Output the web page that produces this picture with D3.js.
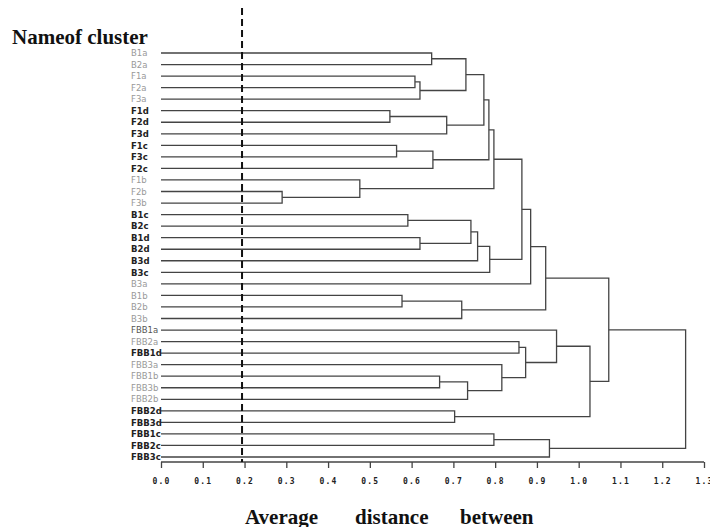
<!DOCTYPE html>
<html>
<head>
<meta charset="utf-8">
<script src="https://cdn.jsdelivr.net/npm/d3@7"></script>
<style>
  body { margin: 0; background: #fff; }
  svg { display: block; }
</style>
</head>
<body>
<div id="chart"></div>
<script>
// leaf order, top to bottom
const leaves = ["B1a","B2a","F1a","F2a","F3a","F1d","F2d","F3d","F1c","F3c","F2c",
  "F1b","F2b","F3b","B1c","B2c","B1d","B2d","B3d","B3c","B3a","B1b","B2b","B3b",
  "FBB1a","FBB2a","FBB1d","FBB3a","FBB1b","FBB3b","FBB2b","FBB2d","FBB3d",
  "FBB1c","FBB2c","FBB3c"];

// merges: [id, left, right, height]
const merges = [
  ["F23b","F2b","F3b",0.290],
  ["Fb","F1b","F23b",0.476],
  ["F12d","F1d","F2d",0.548],
  ["F13c","F1c","F3c",0.564],
  ["B12b","B1b","B2b",0.577],
  ["B12c","B1c","B2c",0.591],
  ["F12a","F1a","F2a",0.608],
  ["B12d","B1d","B2d",0.620],
  ["Fa","F12a","F3a",0.620],
  ["B12a","B1a","B2a",0.648],
  ["Fc","F13c","F2c",0.651],
  ["FBB13b","FBB1b","FBB3b",0.667],
  ["Fd","F12d","F3d",0.684],
  ["FBBd23","FBB2d","FBB3d",0.703],
  ["Bb","B12b","B3b",0.720],
  ["BFa","B12a","Fa",0.730],
  ["FBBb","FBB13b","FBB2b",0.734],
  ["Bcd","B12c","B12d",0.742],
  ["Bcd3","Bcd","B3d",0.758],
  ["Fad","BFa","Fd",0.773],
  ["Fadc","Fad","Fc",0.785],
  ["Bcdc","Bcd3","B3c",0.787],
  ["FBBc12","FBB1c","FBB2c",0.797],
  ["Fall","Fadc","Fb",0.797],
  ["FBBb3","FBB3a","FBBb",0.816],
  ["FBBad","FBB2a","FBB1d",0.857],
  ["BF","Fall","Bcdc",0.864],
  ["FBBadb","FBBad","FBBb3",0.873],
  ["BF3a","BF","B3a",0.885],
  ["BFb","BF3a","Bb",0.921],
  ["FBBc","FBBc12","FBB3c",0.930],
  ["FBBa","FBB1a","FBBadb",0.947],
  ["FBBabd","FBBa","FBBd23",1.027],
  ["BFall","BFb","FBBabd",1.072],
  ["root","BFall","FBBc",1.256]
];

const ticks = [0,0.1,0.2,0.3,0.4,0.5,0.6,0.7,0.8,0.9,1.0,1.1,1.2,1.3];
const cutoff = 0.194;

// label tones (style only)
const darkLabels = ["F1d","F2d","F3d","F1c","F3c","F2c","B1c","B2c","B1d","B2d","B3d","B3c",
  "FBB1d","FBB2d","FBB3d","FBB1c","FBB2c","FBB3c"];
const midLabels = ["FBB1a"];

const width = 710, height = 527;
const svg = d3.select("#chart").append("svg")
  .attr("width", width).attr("height", height);

const x = d3.scaleLinear().domain([0, 1.3]).range([161, 704]);
const y = d3.scalePoint().domain(leaves).range([53, 457]);

// node positions
const pos = {};
leaves.forEach(d => pos[d] = { x: x(0), y: y(d) });
merges.forEach(([id, a, b, h]) => {
  pos[id] = { x: x(h), y: (pos[a].y + pos[b].y) / 2 };
});

const lines = svg.append("g")
  .attr("fill", "none")
  .attr("stroke", "#444")
  .attr("stroke-width", 1.3);

merges.forEach(([id, a, b, h]) => {
  const xm = x(h);
  lines.append("path")
    .attr("d", `M${pos[a].x},${pos[a].y}H${xm}V${pos[b].y}H${pos[b].x}`);
});

// leaf labels
svg.append("g").selectAll("text")
  .data(leaves)
  .join("text")
  .attr("x", 131)
  .attr("y", d => y(d) + 3.2)
  .attr("font-family", "DejaVu Sans")
  .attr("font-size", 8.5)
  .attr("font-weight", d => darkLabels.includes(d) ? "bold" : "normal")
  .attr("fill", d => darkLabels.includes(d) ? "#222" : midLabels.includes(d) ? "#555" : "#999")
  .text(d => d);

// axis
const axis = d3.axisBottom(x).tickValues(ticks).tickSize(6)
  .tickFormat(d3.format(".1f"));
const ax = svg.append("g").attr("transform", "translate(0,462)").call(axis);
ax.select(".domain").attr("stroke", "#444").attr("stroke-width", 1.3)
  .attr("d", `M${x(0)},0H${x(1.3)}`);
ax.selectAll(".tick line").attr("stroke", "#444").attr("stroke-width", 1.3);
ax.selectAll(".tick text")
  .attr("y", 16)
  .attr("font-family", "DejaVu Sans Mono")
  .attr("font-weight", "bold")
  .attr("font-size", 8)
  .attr("letter-spacing", 1.2)
  .attr("fill", "#222");

// cutoff line
svg.append("line")
  .attr("x1", x(cutoff)).attr("x2", x(cutoff))
  .attr("y1", 8).attr("y2", 462)
  .attr("stroke", "#111")
  .attr("stroke-width", 2)
  .attr("stroke-dasharray", "7,4");

// titles
svg.append("text")
  .attr("x", 12).attr("y", 44)
  .attr("font-family", "Liberation Serif")
  .attr("font-weight", "bold")
  .attr("font-size", 21)
  .attr("fill", "#111")
  .text("Nameof cluster");

const xt = svg.append("text")
  .attr("y", 524)
  .attr("font-family", "Liberation Serif")
  .attr("font-weight", "bold")
  .attr("font-size", 21)
  .attr("fill", "#111");
[["Average", 245], ["distance", 355], ["between", 460]].forEach(([t, px]) => {
  xt.append("tspan").attr("x", px).text(t);
});
</script>
</body>
</html>
